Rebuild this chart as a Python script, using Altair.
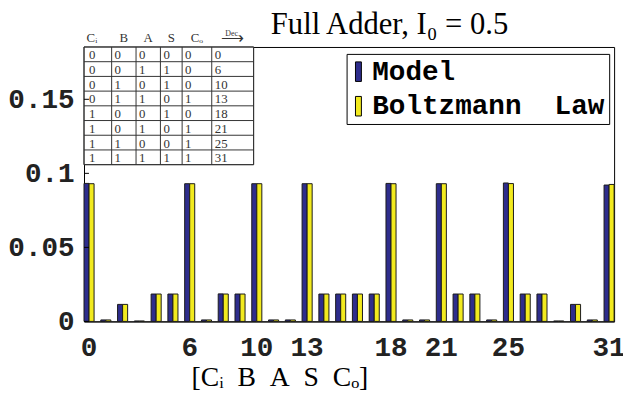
import altair as alt
import pandas as pd

# ---------------- data ----------------
states = list(range(32))
model = [0.0932, 0.0010, 0.0115, 0.0003, 0.0185, 0.0185, 0.0930, 0.0010,
         0.0186, 0.0185, 0.0930, 0.0010, 0.0010, 0.0930, 0.0185, 0.0185,
         0.0185, 0.0185, 0.0932, 0.0010, 0.0010, 0.0930, 0.0185, 0.0185,
         0.0010, 0.0935, 0.0185, 0.0185, 0.0003, 0.0115, 0.0010, 0.0921]
boltz = [0.0930, 0.0010, 0.0115, 0.0003, 0.0185, 0.0185, 0.0930, 0.0010,
         0.0185, 0.0185, 0.0930, 0.0010, 0.0010, 0.0930, 0.0185, 0.0185,
         0.0185, 0.0185, 0.0930, 0.0010, 0.0010, 0.0930, 0.0185, 0.0185,
         0.0010, 0.0931, 0.0185, 0.0185, 0.0003, 0.0115, 0.0010, 0.0925]
series_names = ["Model", "Boltzmann\u00a0\u00a0Law"]
x_tick_labels = [0, 6, 10, 13, 18, 21, 25, 31]
y_ticks = [0, 0.05, 0.1, 0.15]

# truth table of the full adder
ci = [0, 0, 0, 0, 1, 1, 1, 1]
b = [0, 0, 1, 1, 0, 0, 1, 1]
a = [0, 1, 0, 1, 0, 1, 0, 1]
s = [0, 1, 1, 0, 1, 0, 0, 1]
co = [0, 0, 0, 1, 0, 1, 1, 1]
dec = [0, 6, 10, 13, 18, 21, 25, 31]
table_headers = ["C\u1d62", "B", "A", "S", "C\u2092"]

# ---------------- layout / style ----------------
W, H = 537, 278
YMAX = H / 1500.0
BLUE = "#2e2d8c"
YELLOW = "#f2ea1e"
MONO = "Liberation Mono"
SERIF = "Liberation Serif"

col_w = [28, 24.7, 24.7, 22, 30, 42.4]
lefts = [0.0]
for w in col_w:
    lefts.append(lefts[-1] + w)
row_h = 14.9
n_rows = len(dec)

# ---------------- bars ----------------
rows = []
for st, m, bz in zip(states, model, boltz):
    rows.append({"state": st, "series": series_names[0], "p": m})
    rows.append({"state": st, "series": series_names[1], "p": bz})
bars_df = pd.DataFrame(rows)

bars = alt.Chart(bars_df).mark_bar(stroke="#1a1a1a", strokeWidth=1).encode(
    x=alt.X("state:O",
            scale=alt.Scale(paddingInner=0.4, paddingOuter=0),
            axis=alt.Axis(values=x_tick_labels, labelAngle=0, ticks=False,
                          labelFont=MONO, labelFontWeight="bold", labelFontSize=28,
                          labelPadding=13, labelColor="#222", domainColor="black",
                          title="[C\u1d62\u00a0\u00a0B\u00a0\u00a0A\u00a0\u00a0S\u00a0\u00a0C\u2092]",
                          titleFont=SERIF, titleFontSize=28, titleFontWeight="normal",
                          titleColor="black", titleX=198, titleY=65,
                          titleBaseline="alphabetic")),
    xOffset=alt.XOffset("series:N", sort=series_names),
    y=alt.Y("p:Q",
            scale=alt.Scale(domain=[0, YMAX], nice=False),
            axis=alt.Axis(values=y_ticks, labelExpr="format(datum.value, '~g')",
                          ticks=False, grid=False, title=None,
                          labelFont=MONO, labelFontWeight="bold", labelFontSize=28,
                          labelPadding=10, labelColor="#222", domainColor="black")),
    color=alt.Color("series:N", sort=series_names,
                    scale=alt.Scale(domain=series_names, range=[BLUE, YELLOW]),
                    legend=alt.Legend(title=None, orient="none", legendX=266, legendY=7,
                                      direction="vertical",
                                      symbolType="M-1,-3.3H1V3.3H-1Z", symbolSize=36,
                                      symbolStrokeColor="black", symbolStrokeWidth=1,
                                      symbolOpacity=1, symbolOffset=-6,
                                      labelFont=MONO, labelFontWeight="bold",
                                      labelFontSize=28, labelColor="black",
                                      labelOffset=0, labelLimit=400, rowPadding=7,
                                      padding=4, strokeColor="black", fillColor="white",
                                      cornerRadius=0)),
)

# ---------------- inset truth table ----------------
tx = alt.Scale(domain=[0, W], nice=False, zero=False)
ty = alt.Scale(domain=[0, H], nice=False, zero=False, reverse=True)

bg_df = pd.DataFrame([{"x0": 0, "x1": lefts[-1], "y0": 0, "y1": n_rows * row_h}])
table_bg = alt.Chart(bg_df).mark_rect(fill="white", stroke="#333", strokeWidth=1).encode(
    x=alt.X("x0:Q", scale=tx, axis=None), x2="x1",
    y=alt.Y("y0:Q", scale=ty, axis=None), y2="y1")

h_df = pd.DataFrame([{"x0": 0, "x1": lefts[-1], "y": r * row_h} for r in range(n_rows + 1)])
hlines = alt.Chart(h_df).mark_rule(color="#333", strokeWidth=1).encode(
    x=alt.X("x0:Q", scale=tx, axis=None), x2="x1",
    y=alt.Y("y:Q", scale=ty, axis=None))

v_df = pd.DataFrame([{"x": lx, "y0": 0, "y1": n_rows * row_h} for lx in lefts])
vlines = alt.Chart(v_df).mark_rule(color="#333", strokeWidth=1).encode(
    x=alt.X("x:Q", scale=tx, axis=None),
    y=alt.Y("y0:Q", scale=ty, axis=None), y2="y1")

cells = []
for c, col in enumerate([ci, b, a, s, co, dec]):
    for r, v in enumerate(col):
        cells.append({"x": lefts[c] + (5 if c == 0 else 3), "y": (r + 0.5) * row_h, "t": str(v)})
cell_text = alt.Chart(pd.DataFrame(cells)).mark_text(
    align="left", baseline="middle", font=SERIF, fontSize=13, color="#333", dy=1).encode(
    x=alt.X("x:Q", scale=tx, axis=None),
    y=alt.Y("y:Q", scale=ty, axis=None),
    text="t:N")

hdr = [{"x": (lefts[i] + lefts[i + 1]) / 2 - (6 if i == 0 else 0), "y": -5, "t": t}
       for i, t in enumerate(table_headers)]
hdr_text = alt.Chart(pd.DataFrame(hdr)).mark_text(
    align="center", baseline="alphabetic", font=SERIF, fontSize=13, color="#333").encode(
    x=alt.X("x:Q", scale=tx, axis=None),
    y=alt.Y("y:Q", scale=ty, axis=None),
    text="t:N")

dec_hdr = pd.DataFrame([
    {"x": (lefts[5] + lefts[6]) / 2, "y": -11, "t": "Dec.", "fs": 8},
    {"x": (lefts[5] + lefts[6]) / 2, "y": -4, "t": "\u27f6", "fs": 16},
])
dec_text = alt.Chart(dec_hdr).mark_text(
    align="center", baseline="alphabetic", font=SERIF, color="#333").encode(
    x=alt.X("x:Q", scale=tx, axis=None),
    y=alt.Y("y:Q", scale=ty, axis=None),
    size=alt.Size("fs:Q", scale=None, legend=None),
    text="t:N")

# inward y ticks
tick_df = pd.DataFrame({"v": y_ticks})
yticks = alt.Chart(tick_df).mark_rule(color="black", strokeWidth=1).encode(
    y=alt.Y("v:Q", scale=alt.Scale(domain=[0, YMAX], nice=False), axis=None),
    x=alt.value(0), x2=alt.value(5))

chart = alt.layer(
    bars, table_bg, hlines, vlines, cell_text, hdr_text, dec_text, yticks
).resolve_scale(
    x="independent", y="independent"
).properties(
    width=W, height=H,
    autosize=alt.AutoSizeParams(type="none"),
    padding={"left": 77, "top": 37, "right": 9, "bottom": 69},
    background="white",
    title=alt.TitleParams(text="Full Adder, I\u2080 = 0.5", font=SERIF, fontSize=31,
                          fontWeight="normal", color="black", anchor="middle",
                          dx=41, dy=23, offset=12),
).configure_view(stroke="black", strokeWidth=1)

chart.save("out.html", embed_options={"renderer": "svg", "actions": False})
